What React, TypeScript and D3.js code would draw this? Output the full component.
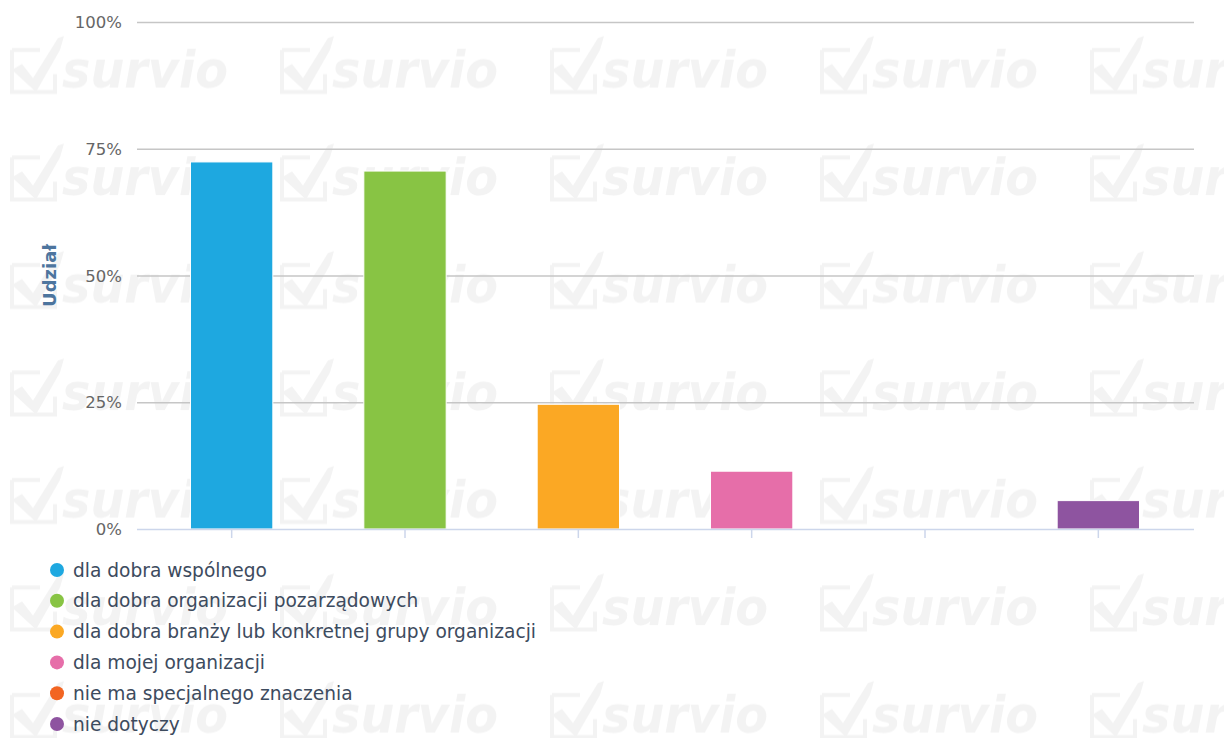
import React, { useRef, useEffect } from "react";
import * as d3 from "d3";

const categories = [
  "dla dobra wspólnego",
  "dla dobra organizacji pozarządowych",
  "dla dobra branży lub konkretnej grupy organizacji",
  "dla mojej organizacji",
  "nie ma specjalnego znaczenia",
  "nie dotyczy",
];
const values = [72.4, 70.6, 24.6, 11.4, 0, 5.6];
const colors = ["#1ea8e0", "#88c444", "#fba824", "#e66ea9", "#f26522", "#8e54a0"];
const yTicks = [0, 25, 50, 75, 100];

const App = () => {
  const svgRef = useRef<SVGSVGElement>(null);

  useEffect(() => {
    const svg = d3.select(svgRef.current);
    svg.selectAll("*").remove();

    const width = 1224;
    const height = 738;
    const plot = { left: 137, right: 1194, top: 22, bottom: 529 };

    // watermark pattern
    const defs = svg.append("defs");
    const pat = defs
      .append("pattern")
      .attr("id", "wm")
      .attr("patternUnits", "userSpaceOnUse")
      .attr("x", 0)
      .attr("y", -8)
      .attr("width", 270)
      .attr("height", 107.5);
    pat
      .append("path")
      .attr("d", "M12,58 H40 M12,58 V100 H55 V82")
      .attr("fill", "none")
      .attr("stroke", "#f3f3f3")
      .attr("stroke-width", 4);
    pat
      .append("path")
      .attr("d", "M12,78 L22,72 L33,86 L58,46 L64,44 L60,58 L36,100 Z")
      .attr("fill", "#f3f3f3");
    pat
      .append("text")
      .attr("x", 62)
      .attr("y", 96)
      .attr("font-family", "DejaVu Sans")
      .attr("font-weight", "bold")
      .attr("font-style", "italic")
      .attr("font-size", 52)
      .attr("textLength", 166)
      .attr("lengthAdjust", "spacingAndGlyphs")
      .attr("fill", "#f3f3f3")
      .text("survio");

    svg.append("rect").attr("width", width).attr("height", height).attr("fill", "#fff");
    svg.append("rect").attr("width", width).attr("height", height).attr("fill", "url(#wm)");

    const x = d3.scaleBand<string>().domain(categories).range([145, 1185]).padding(0);
    const y = d3.scaleLinear().domain([0, 100]).range([plot.bottom, plot.top]);

    // gridlines
    svg
      .append("g")
      .selectAll("line")
      .data(yTicks.filter((t) => t > 0))
      .join("line")
      .attr("x1", plot.left)
      .attr("x2", plot.right)
      .attr("y1", (d) => y(d) + 0.5)
      .attr("y2", (d) => y(d) + 0.5)
      .attr("stroke", "#c6c6c6")
      .attr("stroke-width", 1.5);

    // y labels
    svg
      .append("g")
      .selectAll("text")
      .data(yTicks)
      .join("text")
      .attr("x", 122)
      .attr("y", (d) => y(d) + 6)
      .attr("text-anchor", "end")
      .attr("font-family", "DejaVu Sans")
      .attr("font-size", 16.5)
      .attr("fill", "#666")
      .text((d) => `${d}%`);

    // axis title
    svg
      .append("text")
      .attr("transform", `translate(56,${y(50)}) rotate(-90)`)
      .attr("text-anchor", "middle")
      .attr("font-family", "DejaVu Sans")
      .attr("font-weight", "bold")
      .attr("font-size", 18)
      .attr("fill", "#4d759e")
      .text("Udział");

    // bars
    const bw = x.bandwidth() * 0.475;
    svg
      .append("g")
      .selectAll("rect")
      .data(categories)
      .join("rect")
      .attr("x", (d) => x(d)! + x.bandwidth() / 2 - bw / 2)
      .attr("y", (d, i) => y(values[i]))
      .attr("width", bw)
      .attr("height", (d, i) => plot.bottom - y(values[i]))
      .attr("fill", (d, i) => colors[i])
      .attr("stroke", "#fff")
      .attr("stroke-width", 1);

    // x axis line + ticks
    svg
      .append("line")
      .attr("x1", plot.left)
      .attr("x2", plot.right)
      .attr("y1", plot.bottom + 0.5)
      .attr("y2", plot.bottom + 0.5)
      .attr("stroke", "#ccd6eb")
      .attr("stroke-width", 1.5);
    svg
      .append("g")
      .selectAll("line")
      .data(categories)
      .join("line")
      .attr("x1", (d) => x(d)! + x.bandwidth() / 2)
      .attr("x2", (d) => x(d)! + x.bandwidth() / 2)
      .attr("y1", plot.bottom)
      .attr("y2", plot.bottom + 9)
      .attr("stroke", "#ccd6eb")
      .attr("stroke-width", 1.5);

    // legend
    const lg = svg
      .append("g")
      .selectAll("g")
      .data(categories)
      .join("g")
      .attr("transform", (d, i) => `translate(0,${570 + i * 30.8})`);
    lg.append("circle")
      .attr("cx", 57)
      .attr("cy", 0)
      .attr("r", 7)
      .attr("fill", (d, i) => colors[i]);
    lg.append("text")
      .attr("x", 73)
      .attr("y", 6.5)
      .attr("font-family", "DejaVu Sans")
      .attr("font-size", 18.6)
      .attr("fill", "#3d4b5e")
      .text((d) => d);
  }, []);

  return (
    <svg
      ref={svgRef}
      width={1224}
      height={738}
      style={{ position: "absolute", left: 0, top: 0 }}
    ></svg>
  );
};

export default App;
